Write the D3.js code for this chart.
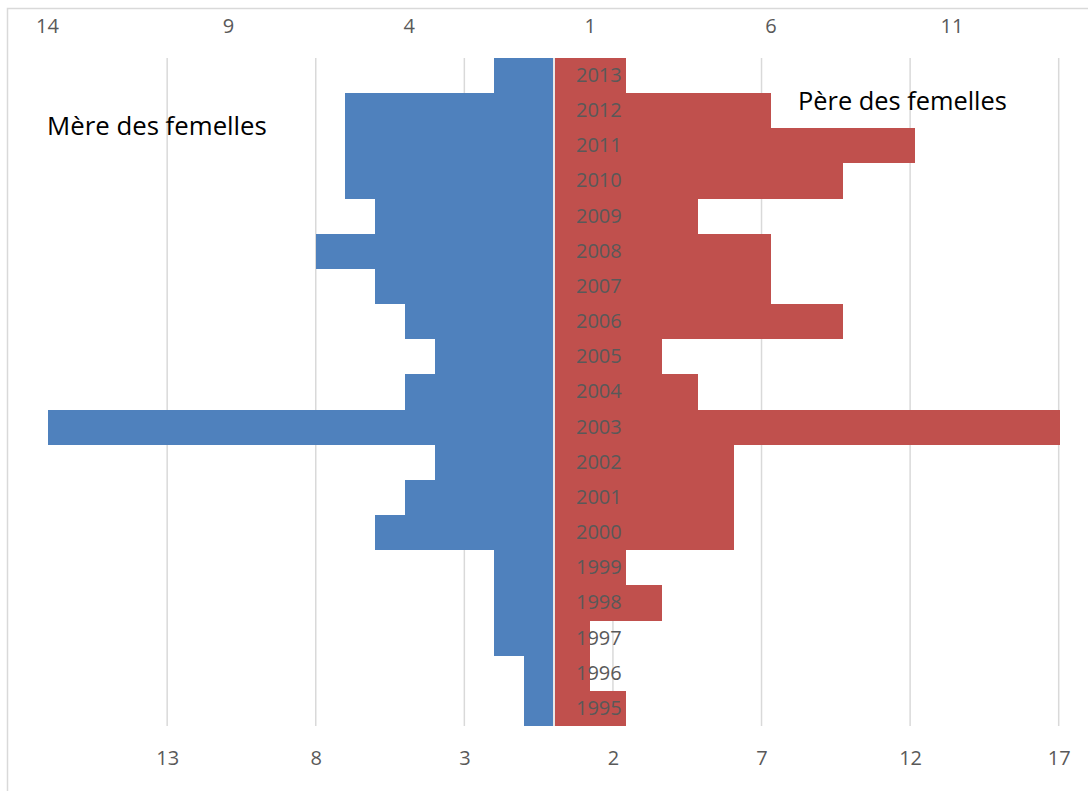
<!DOCTYPE html>
<html>
<head>
<meta charset="utf-8">
<script src="https://cdn.jsdelivr.net/npm/d3@7"></script>
<style>
  html, body { margin: 0; padding: 0; background: #fff; }
  svg { display: block; }
  text { font-family: "Open Sans", "Liberation Sans", sans-serif; }
  rect.bar { shape-rendering: crispEdges; }
</style>
</head>
<body>
<svg id="chart" width="1088" height="791"></svg>
<script>
// ---- data ----
const years = [1995, 1996, 1997, 1998, 1999, 2000, 2001, 2002, 2003, 2004,
               2005, 2006, 2007, 2008, 2009, 2010, 2011, 2012, 2013];
const mere = [1, 1, 2, 2, 2, 6, 5, 4, 17, 5, 4, 5, 6, 8, 6, 7, 7, 7, 2];
const pere = [2, 1, 1, 3, 2, 5, 5, 5, 14, 4, 3, 8, 6, 6, 4, 8, 10, 6, 2];
const bottomTicks = [-13, -8, -3, 2, 7, 12, 17];
const topTicks = [-14, -9, -4, 1, 6, 11];
const labelMere = "Mère des femelles";
const labelPere = "Père des femelles";

// ---- layout ----
const W = 1088, H = 791;
const plotTop = 58, plotBottom = 726;
const svg = d3.select("#chart");

const xB = d3.scaleLinear().domain([-17, 17]).range([48.3, 1058.7]);
const xT = d3.scaleLinear().domain([-14, 14]).range([47, 1060]);
const y = d3.scaleBand()
  .domain(years.slice().reverse())
  .range([plotTop, plotBottom])
  .padding(0);

// chart border
svg.append("rect")
  .attr("x", 7.5).attr("y", 8.5)
  .attr("width", W + 20).attr("height", H + 20)
  .attr("fill", "none")
  .attr("stroke", "#d9d9d9")
  .attr("stroke-width", 1.5);

// gridlines (bottom axis)
svg.append("g").selectAll("line")
  .data(bottomTicks)
  .join("line")
  .attr("x1", d => xB(d)).attr("x2", d => xB(d))
  .attr("y1", plotTop).attr("y2", plotBottom)
  .attr("stroke", "#d9d9d9")
  .attr("stroke-width", 1.5);

const rowsM = years.map((yr, i) => ({ yr, v: mere[i] }));
const rowsP = years.map((yr, i) => ({ yr, v: pere[i] }));

// blue bars (left, bottom axis)
svg.append("g").selectAll("rect")
  .data(rowsM)
  .join("rect")
  .attr("class", "bar")
  .attr("x", d => xB(-d.v))
  .attr("width", d => xB(0) - xB(-d.v))
  .attr("y", d => y(d.yr))
  .attr("height", y.bandwidth())
  .attr("fill", "#4F81BD");

// red bars (right, top axis)
svg.append("g").selectAll("rect")
  .data(rowsP)
  .join("rect")
  .attr("class", "bar")
  .attr("x", xT(0))
  .attr("width", d => xT(d.v) - xT(0))
  .attr("y", d => y(d.yr))
  .attr("height", y.bandwidth())
  .attr("fill", "#C0504D");

// zero axis line
svg.append("line")
  .attr("x1", xB(0) + 0.5).attr("x2", xB(0) + 0.5)
  .attr("y1", plotTop).attr("y2", plotBottom)
  .attr("stroke", "#e8e8e8")
  .attr("stroke-width", 2);

// top axis
const gTop = svg.append("g")
  .attr("transform", `translate(0,${plotTop})`)
  .call(d3.axisTop(xT).tickValues(topTicks).tickSize(0).tickPadding(25)
        .tickFormat(d => Math.abs(d)));
// bottom axis
const gBot = svg.append("g")
  .attr("transform", `translate(0,${plotBottom})`)
  .call(d3.axisBottom(xB).tickValues(bottomTicks).tickSize(0).tickPadding(25)
        .tickFormat(d => Math.abs(d)));
// year labels
const gY = svg.append("g")
  .attr("transform", `translate(576,0)`)
  .call(d3.axisRight(y).tickSize(0).tickPadding(0));

[gTop, gBot, gY].forEach(g => {
  g.select(".domain").remove();
  g.selectAll("text")
    .attr("fill", "#595959")
    .style("font-family", '"Open Sans", "Liberation Sans", sans-serif')
    .style("font-size", "20px");
});
gY.selectAll("text").attr("text-anchor", "start");

// series labels
function fitText(txt, x, yb, targetW) {
  const t = svg.append("text")
    .attr("x", x).attr("y", yb)
    .attr("fill", "#000")
    .style("font-size", "26px")
    .text(txt);
  const w = t.node().getComputedTextLength();
  t.style("font-size", (26 * targetW / w).toFixed(2) + "px");
  return t;
}
fitText(labelMere, 47, 135, 220);
fitText(labelPere, 798, 110, 209);
</script>
</body>
</html>
